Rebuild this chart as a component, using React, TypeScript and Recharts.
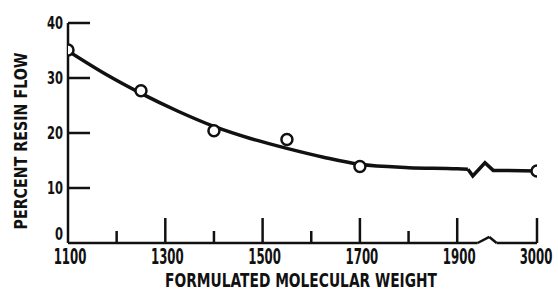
import React from "react";
import {
  ComposedChart,
  Line,
  Scatter,
  XAxis,
  YAxis,
  ReferenceLine,
} from "recharts";

// Molecular weights on the broken axis: 3000 is drawn right after the break, at axis position 2064
const BREAK_AFTER = 1950;
const POS_OF_3000 = 2064;
const toAxis = (w: number) => (w <= BREAK_AFTER ? w : POS_OF_3000 + (w - 3000));

// Measured points
const weights = [1100, 1250, 1400, 1550, 1700, 3000];
const resinFlow = [35.1, 27.7, 20.4, 18.8, 13.9, 13.1];

// Fitted curve (axis units)
const curveX = [1100, 1175, 1250, 1325, 1400, 1475, 1550, 1625, 1700, 1800, 1900, 1922];
const curveY = [34.9, 30.8, 27.2, 24.0, 21.2, 19.0, 17.2, 15.6, 14.3, 13.7, 13.5, 13.4];

// Break symbol on the curve (axis units)
const curveBreakX = [1922, 1932, 1957, 1974, 2064];
const curveBreakY = [13.4, 12.2, 14.6, 13.2, 13.1];

// X axis line with break zigzag
const axisBreakX = [1100, 1942, 1966, 1981, 2064];
const axisBreakY = [0, 0, 1.1, 0, 0];

const xMajorTicks = [1300, 1500, 1700, 1900, POS_OF_3000];
const xMinorTicks = [1200, 1400, 1600, 1800];
const xTickLabels: Record<number, string> = {
  1100: "1100",
  1300: "1300",
  1500: "1500",
  1700: "1700",
  1900: "1900",
  [POS_OF_3000]: "3000",
};
const yTicks = [0, 10, 20, 30, 40];

const FONT = "'DejaVu Sans', sans-serif";
const INK = "#111";

const pointData = weights.map((w, i) => ({ x: toAxis(w), y: resinFlow[i] }));
const curveData = curveX.map((x, i) => ({ x, y: curveY[i] }));
const curveBreakData = curveBreakX.map((x, i) => ({ x, y: curveBreakY[i] }));
const axisSegs = axisBreakX.slice(0, -1).map((x, i) => [
  { x, y: axisBreakY[i] },
  { x: axisBreakX[i + 1], y: axisBreakY[i + 1] },
]);

const XTick = (props: any) => {
  const { x, y, payload } = props;
  const v = payload.value as number;
  const major = xMajorTicks.includes(v);
  const minor = xMinorTicks.includes(v);
  const len = major ? 25 : minor ? 12 : 0;
  const label = xTickLabels[v];
  const isLast = v === POS_OF_3000;
  const cx = isLast ? x - 1 : x + 2;
  return (
    <g>
      {len > 0 && (
        <line x1={x} y1={y} x2={x} y2={y - len} stroke={INK} strokeWidth={2.5} />
      )}
      {label && (
        <g transform={`translate(${cx} ${y + 21}) scale(0.56 1)`}>
          <text
            x={0}
            y={0}
            textAnchor="middle"
            fontFamily={FONT}
            fontWeight="bold"
            fontSize={21}
            fill={INK}
          >
            {label}
          </text>
        </g>
      )}
    </g>
  );
};

const YTick = (props: any) => {
  const { x, y, payload } = props;
  const v = payload.value as number;
  const s = String(v);
  return (
    <g>
      {v > 0 && <line x1={x} y1={y} x2={x + 22} y2={y} stroke={INK} strokeWidth={2.5} />}
      <g transform={`translate(${x - 5} ${v === 0 ? y - 3 : y + 6}) scale(0.64 1)`}>
        <text
          x={0}
          y={0}
          textAnchor="end"
          fontFamily={FONT}
          fontWeight="bold"
          fontSize={18}
          fill={INK}
        >
          {s}
        </text>
      </g>
    </g>
  );
};

const Dot = (props: any) => {
  const { cx, cy } = props;
  return <circle cx={cx} cy={cy} r={5.5} fill="#fff" stroke={INK} strokeWidth={2.5} />;
};

export default function App() {
  return (
    <div style={{ position: "absolute", left: 0, top: 0, width: 558, height: 290, background: "#fff" }}>
      <ComposedChart
        width={558}
        height={290}
        margin={{ top: 23, right: 21, bottom: 0, left: 0 }}
      >
        <XAxis
          type="number"
          dataKey="x"
          domain={[1100, POS_OF_3000]}
          ticks={[1100, 1200, 1300, 1400, 1500, 1600, 1700, 1800, 1900, POS_OF_3000]}
          axisLine={false}
          tickLine={false}
          tickSize={0}
          tickMargin={0}
          tick={<XTick />}
          height={47}
          allowDataOverflow
          label={{
            content: () => (
              <text
                x={301}
                y={287}
                textAnchor="middle"
                fontFamily={FONT}
                fontWeight="bold"
                fontSize={19}
                fill={INK}
                textLength={272}
                lengthAdjust="spacingAndGlyphs"
              >
                FORMULATED MOLECULAR WEIGHT
              </text>
            ),
          }}
        />
        <YAxis
          type="number"
          dataKey="y"
          domain={[0, 40]}
          ticks={yTicks}
          width={68}
          axisLine={{ stroke: INK, strokeWidth: 2.5 }}
          tickLine={false}
          tickSize={0}
          tickMargin={0}
          tick={<YTick />}
          label={{
            content: () => (
              <text
                x={27}
                y={141}
                transform="rotate(-90 27 141)"
                textAnchor="middle"
                fontFamily={FONT}
                fontWeight="bold"
                fontSize={17}
                fill={INK}
                textLength={177}
                lengthAdjust="spacingAndGlyphs"
              >
                PERCENT RESIN FLOW
              </text>
            ),
          }}
        />
        {axisSegs.map((seg, i) => (
          <ReferenceLine
            key={i}
            segment={seg}
            stroke={INK}
            strokeWidth={2.5}
            ifOverflow="visible"
          />
        ))}
        <Line
          data={curveData}
          dataKey="y"
          type="monotone"
          stroke={INK}
          strokeWidth={3.5}
          dot={false}
          isAnimationActive={false}
        />
        <Line
          data={curveBreakData}
          dataKey="y"
          type="linear"
          stroke={INK}
          strokeWidth={3.5}
          strokeLinejoin="miter"
          dot={false}
          isAnimationActive={false}
        />
        <Scatter
          data={pointData}
          dataKey="y"
          shape={<Dot />}
          isAnimationActive={false}
        />
      </ComposedChart>
    </div>
  );
}
